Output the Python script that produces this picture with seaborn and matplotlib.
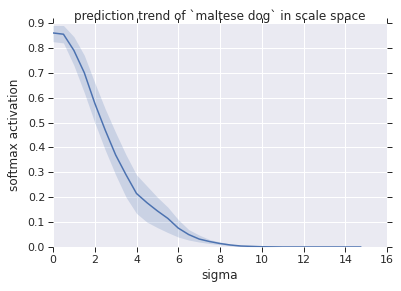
import numpy as np
import pandas as pd
import matplotlib
matplotlib.use("Agg")
import matplotlib.pyplot as plt
import seaborn as sns

sigma = [0, 0.5, 1, 1.5, 2, 2.5, 3, 3.5, 4, 4.5, 5, 5.5, 6, 6.5, 7, 7.5, 8, 8.5, 9, 10, 11, 12, 13, 14, 14.75]
mean_act = [0.86, 0.855, 0.79, 0.70, 0.578, 0.47, 0.37, 0.29, 0.215, 0.178, 0.145, 0.115, 0.076, 0.05, 0.032,
            0.022, 0.014, 0.008, 0.004, 0.001, 0.0, 0.0, 0.0, 0.0, 0.0]
upper_act = [0.89, 0.89, 0.845, 0.77, 0.66, 0.555, 0.46, 0.37, 0.29, 0.245, 0.2, 0.16, 0.11, 0.07, 0.048,
             0.03, 0.02, 0.012, 0.006, 0.002, 0.0, 0.0, 0.0, 0.0, 0.0]
lower_act = [0.825, 0.82, 0.73, 0.62, 0.5, 0.39, 0.29, 0.2, 0.135, 0.1, 0.078, 0.058, 0.04, 0.028, 0.02,
             0.014, 0.009, 0.005, 0.002, 0.0005, 0.0, 0.0, 0.0, 0.0, 0.0]

title = "prediction trend of `maltese dog` in scale space"

sns.set_theme(style="darkgrid")
plt.rcParams['font.family'] = ['DejaVu Sans']

df = pd.DataFrame({"sigma": sigma, "act": mean_act, "lo": lower_act, "hi": upper_act})

fig = plt.figure(figsize=(401 / 72, 291 / 72), dpi=72)
ax = fig.add_axes([53 / 401, 44 / 291, 334 / 401, 224 / 291])

color = "#4C72B0"
ax.fill_between(df["sigma"], df["lo"], df["hi"], color=color, alpha=0.2, linewidth=0)
sns.lineplot(data=df, x="sigma", y="act", ax=ax, color=color, linewidth=1.5, errorbar=None)

ax.set_xlim(0, 16)
ax.set_ylim(0, 0.9)
ax.set_xticks(np.arange(0, 17, 2))
ax.set_yticks(np.arange(0, 0.91, 0.1))
ax.set_yticklabels([f"{v:.1f}" for v in np.arange(0, 0.91, 0.1)])
ax.set_xlabel("sigma", fontsize=12, color="#262626", labelpad=4)
ax.set_ylabel("softmax activation", fontsize=12, color="#262626", labelpad=7)
ax.set_title(title, fontsize=12, color="#262626", pad=3)
ax.tick_params(axis="both", which="major", direction="out", length=5, width=1,
               color="#262626", labelsize=11, labelcolor="#262626", pad=3,
               top=True, right=True, bottom=True, left=True)
for s in ax.spines.values():
    s.set_visible(False)

fig.savefig("out.png", dpi=72)
